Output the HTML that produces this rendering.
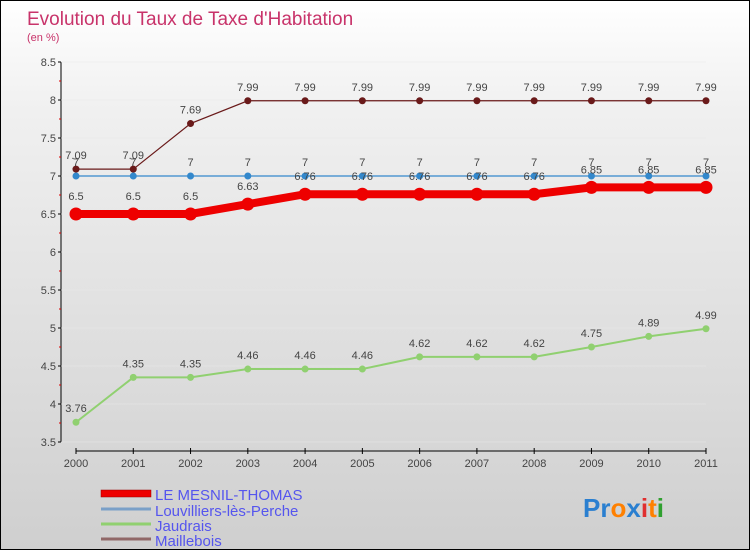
<!DOCTYPE html>
<html><head><meta charset="utf-8"><style>
body{margin:0}
#c{position:relative;width:748px;height:548px;border:1px solid #000;background:linear-gradient(#fff,#f0f0f0 20%,#cfcfcf);font-family:"Liberation Sans",sans-serif;overflow:hidden}
svg text{font-family:"Liberation Sans",sans-serif}
</style></head><body>
<div id="c">
<svg id="s" width="748" height="548">
<text x="26" y="24" font-size="19" fill="#c8336a">Evolution du Taux de Taxe d'Habitation</text>
<text x="26" y="40" font-size="11" fill="#c8336a">(en %)</text>
<g id="axes"></g><g id="series"></g>
<g>
<rect x="100" y="489" width="50" height="7" fill="#e00" stroke="#900" stroke-width="0.5"/>
<text x="154" y="499" font-size="15" fill="#5555ee">LE MESNIL-THOMAS</text>
<line x1="100" y1="508" x2="150" y2="508" stroke="#7aa0c8" stroke-width="3"/>
<text x="154" y="515" font-size="15" fill="#5555ee">Louvilliers-lès-Perche</text>
<line x1="100" y1="523" x2="150" y2="523" stroke="#90d070" stroke-width="3"/>
<text x="154" y="530" font-size="15" fill="#5555ee">Jaudrais</text>
<line x1="100" y1="538" x2="150" y2="538" stroke="#906868" stroke-width="3"/>
<text x="154" y="545" font-size="15" fill="#5555ee">Maillebois</text>
</g>
<text x="582" y="516" font-size="26" font-weight="bold"><tspan fill="#2a7fd0">Pr</tspan><tspan fill="#ff8000">o</tspan><tspan fill="#2a7fd0">x</tspan><tspan fill="#e03030">i</tspan><tspan fill="#ff8000">t</tspan><tspan fill="#30a030">i</tspan></text>
</svg></div>
<script>
const years=["2000","2001","2002","2003","2004","2005","2006","2007","2008","2009","2010","2011"];
const yTicks=[3.5,4,4.5,5,5.5,6,6.5,7,7.5,8,8.5];
const mesnil=[6.5,6.5,6.5,6.63,6.76,6.76,6.76,6.76,6.76,6.85,6.85,6.85];
const louvilliers=[7,7,7,7,7,7,7,7,7,7,7,7];
const jaudrais=[3.76,4.35,4.35,4.46,4.46,4.46,4.62,4.62,4.62,4.75,4.89,4.99];
const maillebois=[7.09,7.09,7.69,7.99,7.99,7.99,7.99,7.99,7.99,7.99,7.99,7.99];
const NS="http://www.w3.org/2000/svg";
const X=i=>75+i*(630/11);
const Y=v=>441-(v-3.5)*76;
function mk(t,a,p){const e=document.createElementNS(NS,t);for(const k in a)e.setAttribute(k,a[k]);p.appendChild(e);return e;}
const ax=document.getElementById('axes');
let e=mk('line',{x1:60,y1:Y(8.5),x2:60,y2:Y(3.5),stroke:'#000'},ax);


e=mk('line',{x1:X(0),y1:450,x2:X(11),y2:450,stroke:'#000'},ax);


yTicks.forEach((v,i)=>{
 mk('line',{x1:57,x2:60,y1:Y(v),y2:Y(v),stroke:'#000'},ax);
 if(i<yTicks.length-1)mk('line',{x1:58,x2:60,y1:Y(v+0.25),y2:Y(v+0.25),stroke:'#d00'},ax);
 mk('line',{x1:60,x2:X(11),y1:Y(v),y2:Y(v),stroke:'#e8e8e8','stroke-width':0.5},ax);
 const t=mk('text',{x:55,y:Y(v)+4,'font-size':11,fill:'#444','text-anchor':'end'},ax);
 t.textContent=String(v);
 
 
});
years.forEach((y,i)=>{
 mk('line',{x1:X(i),x2:X(i),y1:447,y2:453,stroke:'#000'},ax);
 const t=mk('text',{x:X(i),y:466,'font-size':11,fill:'#444','text-anchor':'middle'},ax);
 t.textContent=y;
 
 
});
const sg=document.getElementById('series');
function series(name,data,color,w,r,lblDy){
 const g=mk('g',{},sg);
 
 
 const l=mk('polyline',{points:data.map((v,i)=>X(i)+','+Y(v)).join(' '),fill:'none',stroke:color,'stroke-width':w},g);
 
 
 data.forEach((v,i)=>{
  const c=mk('circle',{cx:X(i),cy:Y(v),r:r,fill:color},g);
  
  
  const t=mk('text',{x:X(i),y:Y(v)+lblDy,'font-size':11,fill:'#444','text-anchor':'middle'},g);
  t.textContent=String(v);
  
  
 });
}
series('jaudrais',jaudrais,'#90d070',2,3.5,-10);
series('maillebois',maillebois,'#6a1a1a',1.2,3.5,-10);
series('louvilliers',louvilliers,'#3388cc',1.2,3.5,-10);
series('mesnil',mesnil,'#ee0000',8,6.5,-14);
</script>
</body></html>
